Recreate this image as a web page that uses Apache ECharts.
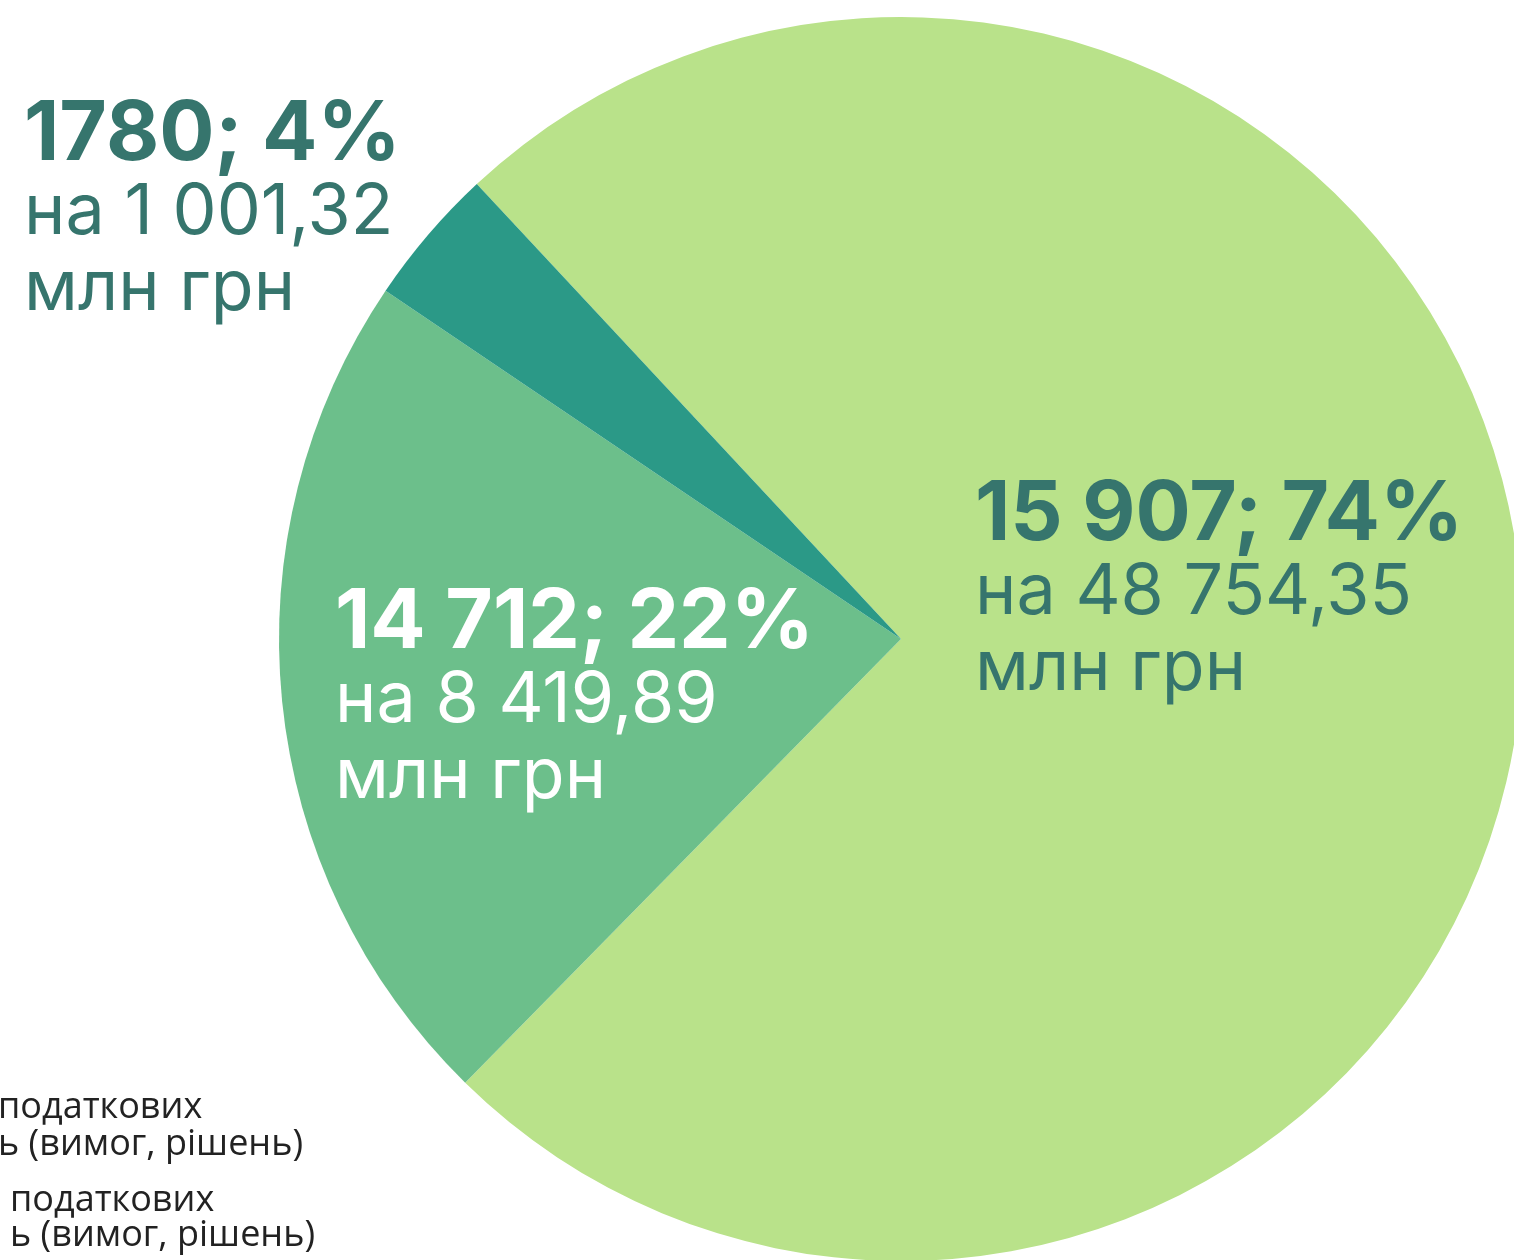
<!DOCTYPE html>
<html>
<head>
<meta charset="utf-8">
<script src="https://cdn.jsdelivr.net/npm/echarts@6/dist/echarts.min.js"></script>
<style>
html,body{margin:0;padding:0;background:#fff;}
#c{width:1514px;height:1260px;}
</style>
</head>
<body>
<div id="c"></div>
<script>
// Data
var countLabels = ['15 907', '14 712', '1780'];
var counts = [15907, 14712, 1780];
var shareLabels = [74, 22, 4];          // percentages printed on the chart
var sliceValues = [74.3, 22.1, 3.6];    // slice sizes
var amounts = ['48 754,35', '8 419,89', '1 001,32'];
var unitText = 'млн грн';
var legendLines = ['податкових', 'ь (вимог, рішень)', 'податкових', 'ь (вимог, рішень)'];

var colors = ['#b9e28a', '#6cbf8b', '#2b9987'];
var labelColors = ['#36756d', '#ffffff', '#36756d'];
var labelPos = [[975, 475], [335, 583], [24, 95]];

var chart = echarts.init(document.getElementById('c'), null, {renderer: 'canvas'});
var FONT = 'Inter, "Noto Sans", sans-serif';

var data = sliceValues.map(function (v, i) {
  return {
    value: v,
    name: countLabels[i],
    itemStyle: {color: colors[i]},
    label: {color: labelColors[i]}
  };
});

var option = {
  animation: false,
  backgroundColor: '#ffffff',
  series: [{
    type: 'pie',
    center: [901, 639],
    radius: [0, 622],
    startAngle: 133,
    clockwise: true,
    avoidLabelOverlap: false,
    silent: true,
    data: data,
    itemStyle: {borderWidth: 0},
    labelLine: {show: false},
    label: {
      show: true,
      position: 'inside',
      align: 'left',
      formatter: function (p) {
        var i = p.dataIndex;
        return '{b|' + countLabels[i] + '; ' + shareLabels[i] + '%}\n{r|на ' + amounts[i] + '}\n{r|' + unitText + '}';
      },
      rich: {
        b: {fontFamily: FONT, fontWeight: 700, fontSize: 82, lineHeight: 80},
        r: {fontFamily: FONT, fontWeight: 400, fontSize: 70, lineHeight: 76}
      }
    },
    labelLayout: function (p) {
      var i = p.dataIndex;
      return {x: labelPos[i][0], y: labelPos[i][1], align: 'left', verticalAlign: 'top', hideOverlap: false};
    }
  }],
  graphic: [
    {type: 'text', left: -2, top: 1089, style: {text: legendLines[0] + '\n' + legendLines[1], font: '36px "Open Sans", sans-serif', fill: '#222222', lineHeight: 37}},
    {type: 'text', left: 10, top: 1183, style: {text: legendLines[2] + '\n' + legendLines[3], font: '36px "Open Sans", sans-serif', fill: '#222222', lineHeight: 35}}
  ]
};
chart.setOption(option);
</script>
</body>
</html>
